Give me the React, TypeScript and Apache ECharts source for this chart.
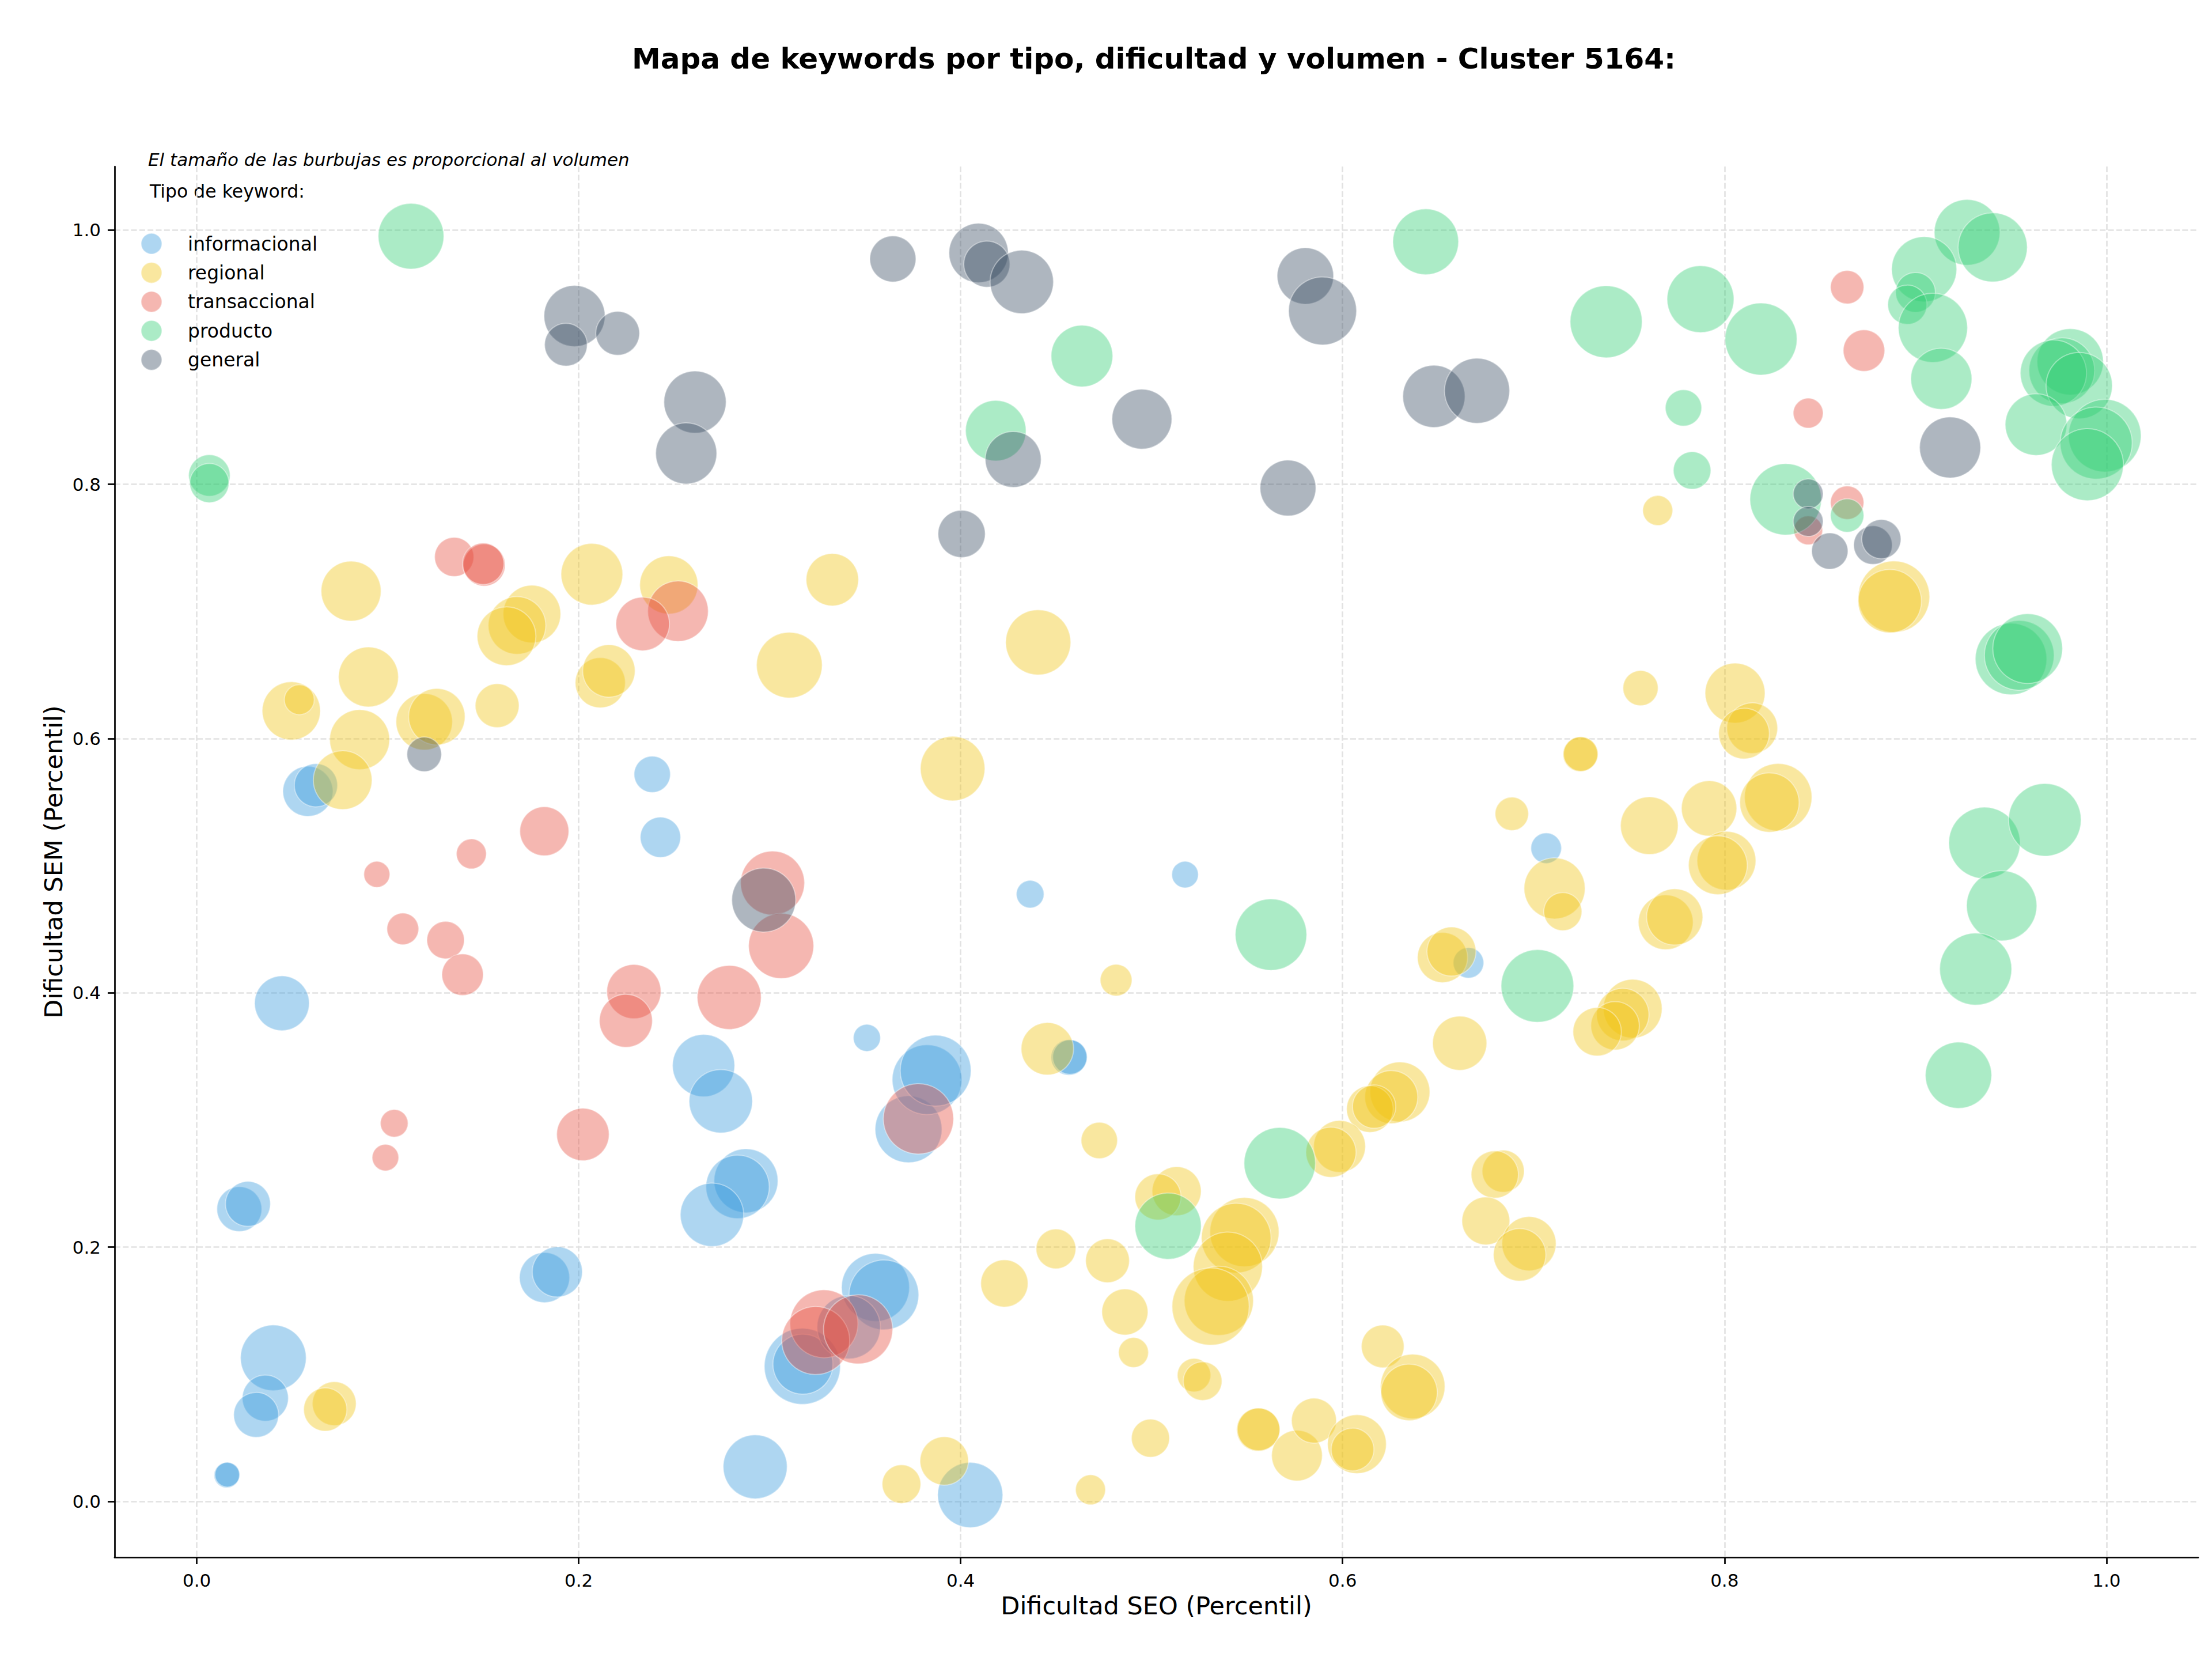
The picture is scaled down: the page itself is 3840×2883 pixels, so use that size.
import React, { useEffect, useRef } from "react";
import * as echarts from "echarts";

// [dificultad SEO, dificultad SEM, volumen]
type Kw = [number, number, number];

const TITLE = "Mapa de keywords por tipo, dificultad y volumen - Cluster 5164:";
const NOTE = "El tamaño de las burbujas es proporcional al volumen";
const LEGEND_TITLE = "Tipo de keyword:";
const X_LABEL = "Dificultad SEO (Percentil)";
const Y_LABEL = "Dificultad SEM (Percentil)";
const TICKS = [0, 0.2, 0.4, 0.6, 0.8, 1.0];

const TYPES = ["informacional", "regional", "transaccional", "producto", "general"];
const COLORS = ["#3498db", "#f1c40f", "#e74c3c", "#2ecc71", "#34495e"];

const informacional: Kw[] = [
  [0.0157, 0.0206, 1940], [0.016, 0.021, 1850],
  [0.0223, 0.2299, 6080], [0.0268, 0.234, 6080],
  [0.0401, 0.1129, 13000], [0.0359, 0.0812, 6400], [0.0311, 0.068, 6080],
  [0.1821, 0.176, 7570], [0.1888, 0.1805, 7570],
  [0.0446, 0.3918, 9030], [0.0582, 0.5585, 7570], [0.0624, 0.5633, 5630],
  [0.2385, 0.5719, 3970], [0.2428, 0.5224, 4900],
  [0.3509, 0.3646, 2210], [0.4364, 0.4776, 2300],
  [0.4567, 0.3492, 3840], [0.4572, 0.3495, 3600],
  [0.5175, 0.493, 2120], [0.7066, 0.5138, 2810], [0.6659, 0.4236, 2810],
  [0.2654, 0.3428, 11660], [0.2744, 0.3147, 12100],
  [0.2876, 0.2522, 12320], [0.2832, 0.2474, 12100], [0.2698, 0.2254, 12100],
  [0.2924, 0.0272, 12320], [0.405, 0.005, 12770],
  [0.3554, 0.1683, 13920], [0.3598, 0.1624, 14640],
  [0.3171, 0.1062, 17420], [0.3174, 0.1079, 10820], [0.3414, 0.137, 12100],
  [0.3727, 0.2927, 13460], [0.3824, 0.3317, 14640], [0.3869, 0.3388, 15130],
];

const regional: Kw[] = [
  [0.0808, 0.716, 10820], [0.2069, 0.7293, 11450], [0.2472, 0.7209, 10200],
  [0.1755, 0.698, 10000], [0.1677, 0.689, 10000], [0.1622, 0.6805, 10400],
  [0.0495, 0.6218, 10200], [0.0537, 0.6306, 2700], [0.0899, 0.6485, 10820],
  [0.0853, 0.5992, 10820], [0.0764, 0.5673, 10400],
  [0.1191, 0.6132, 9600], [0.1257, 0.6172, 9600], [0.1573, 0.6259, 5780],
  [0.2113, 0.6439, 7570], [0.2158, 0.6532, 8280], [0.3328, 0.725, 8280],
  [0.4406, 0.6757, 12770], [0.3103, 0.6578, 13000], [0.3958, 0.5764, 12540],
  [0.4814, 0.41, 3030], [0.4454, 0.356, 8280],
  [0.756, 0.6397, 3720], [0.7244, 0.5876, 3600], [0.7247, 0.5879, 3600],
  [0.6886, 0.5408, 3360], [0.7606, 0.5315, 10000], [0.711, 0.4822, 11240],
  [0.7153, 0.4639, 4360], [0.6523, 0.4278, 7570], [0.657, 0.4325, 7230],
  [0.7692, 0.4555, 9030], [0.7739, 0.4597, 9500], [0.6613, 0.3604, 8840],
  [0.7519, 0.3876, 10400], [0.7467, 0.3829, 8280], [0.7427, 0.3741, 7060],
  [0.7333, 0.3694, 7060],
  [0.63, 0.3221, 10820], [0.6255, 0.318, 8460], [0.6143, 0.3086, 6560], [0.6165, 0.3105, 5630],
  [0.8055, 0.6358, 10820], [0.8145, 0.6082, 7740], [0.8102, 0.6039, 7740],
  [0.8281, 0.5539, 13690], [0.8235, 0.5497, 10610], [0.7919, 0.5451, 9220],
  [0.801, 0.5039, 10400], [0.7965, 0.5004, 10400],
  [0.8887, 0.7116, 15380], [0.8865, 0.7081, 12100], [0.765, 0.7794, 2700],
  [0.072, 0.0769, 5780], [0.0673, 0.0722, 5630],
  [0.4726, 0.2839, 3970], [0.4229, 0.1714, 6720], [0.4499, 0.1986, 4760],
  [0.4769, 0.1893, 5780], [0.486, 0.149, 6400], [0.4905, 0.1171, 2700],
  [0.3914, 0.0318, 7060], [0.369, 0.0136, 4490], [0.468, 0.0091, 2700],
  [0.4994, 0.0497, 4360], [0.5131, 0.244, 7230], [0.5033, 0.2395, 6400],
  [0.5984, 0.2792, 8100], [0.5939, 0.2746, 7570],
  [0.5486, 0.2118, 14400], [0.5443, 0.2071, 14640], [0.5399, 0.1846, 14400],
  [0.5352, 0.1578, 14400], [0.5309, 0.1532, 17960],
  [0.5222, 0.0993, 3360], [0.5267, 0.0946, 4490],
  [0.5558, 0.0564, 5630], [0.556, 0.0566, 5480],
  [0.5761, 0.036, 7740], [0.585, 0.0635, 6080],
  [0.6075, 0.045, 10400], [0.6052, 0.0408, 5480], [0.621, 0.1219, 5480],
  [0.6367, 0.0904, 12540], [0.6348, 0.0857, 9600],
  [0.6841, 0.2597, 5330], [0.6797, 0.2571, 6720], [0.675, 0.2206, 6890],
  [0.6976, 0.2027, 8840], [0.6927, 0.1939, 8280],
];

const transaccional: Kw[] = [
  [0.1348, 0.7429, 4620], [0.1505, 0.7365, 5330], [0.15, 0.7375, 5180],
  [0.252, 0.7002, 11030], [0.2335, 0.6902, 8650],
  [0.182, 0.5271, 7230], [0.1438, 0.5093, 2700], [0.0943, 0.4932, 2030],
  [0.1079, 0.4503, 3030], [0.1303, 0.4415, 4230], [0.1392, 0.4143, 5180],
  [0.2289, 0.401, 8840], [0.2247, 0.378, 8460],
  [0.3015, 0.4864, 12320], [0.306, 0.4369, 12770], [0.2788, 0.3964, 12320],
  [0.1034, 0.2974, 2300], [0.0988, 0.2704, 2120], [0.2022, 0.2886, 8280],
  [0.3284, 0.1397, 13920], [0.3241, 0.1265, 13920], [0.3463, 0.1353, 14400],
  [0.3779, 0.3009, 14880],
  [0.8642, 0.9551, 3360], [0.873, 0.9052, 5180], [0.8438, 0.856, 2700],
  [0.8642, 0.7856, 3360], [0.8438, 0.7638, 2500],
];

const producto: Kw[] = [
  [0.1122, 0.9952, 13000], [0.0066, 0.807, 5180], [0.0066, 0.801, 4620],
  [0.4635, 0.9009, 11450], [0.4184, 0.8422, 11030],
  [0.6435, 0.9908, 13000], [0.738, 0.9279, 15630], [0.7874, 0.9457, 13460],
  [0.8191, 0.9143, 15630], [0.7785, 0.8601, 3970], [0.783, 0.8109, 4230],
  [0.832, 0.7882, 15380], [0.8642, 0.7755, 3360],
  [0.927, 0.9982, 13000], [0.9404, 0.9864, 14400], [0.9045, 0.9692, 12770],
  [0.9, 0.951, 4760], [0.8957, 0.9413, 4620], [0.9091, 0.9231, 14400],
  [0.9135, 0.883, 11240],
  [0.981, 0.8964, 13230], [0.9766, 0.8894, 13000], [0.9722, 0.8875, 13230],
  [0.9857, 0.8777, 13230], [0.9631, 0.847, 11450], [0.9991, 0.8383, 15880],
  [0.9946, 0.8325, 15630], [0.99, 0.8155, 15630],
  [0.95, 0.6626, 15380], [0.9543, 0.6655, 14640], [0.9587, 0.6708, 14640],
  [0.9361, 0.5179, 15380], [0.9677, 0.5361, 15880], [0.9451, 0.4685, 14880],
  [0.9315, 0.4187, 15630], [0.9225, 0.3352, 13230],
  [0.5625, 0.4458, 15380], [0.702, 0.4054, 15880],
  [0.5671, 0.266, 15380], [0.5086, 0.2165, 13230],
];

const general: Kw[] = [
  [0.1978, 0.9324, 11240], [0.1933, 0.9098, 5480], [0.2204, 0.9188, 5780],
  [0.3645, 0.9773, 6400], [0.4094, 0.982, 10610], [0.4137, 0.9732, 6400],
  [0.432, 0.9592, 12100], [0.2609, 0.8647, 11660], [0.2563, 0.8243, 11240],
  [0.4275, 0.8196, 9410], [0.4949, 0.8513, 10820], [0.4005, 0.761, 6720],
  [0.5805, 0.9639, 9600], [0.5895, 0.9364, 13920], [0.6478, 0.8692, 11660],
  [0.6704, 0.8736, 12770], [0.5714, 0.7971, 9410], [0.9181, 0.829, 11240],
  [0.8438, 0.7925, 2700], [0.8438, 0.7708, 2700], [0.8551, 0.7475, 3970],
  [0.8777, 0.7522, 4490], [0.8821, 0.7569, 4620],
  [0.1191, 0.5876, 3600], [0.2969, 0.473, 12320],
];

const GROUPS: Kw[][] = [informacional, regional, transaccional, producto, general];

const FONT = "DejaVu Sans";

function withAlpha(hex: string, a: number): string {
  const n = parseInt(hex.slice(1), 16);
  return `rgba(${(n >> 16) & 255},${(n >> 8) & 255},${n & 255},${a})`;
}

export default function App() {
  const ref = useRef<HTMLDivElement>(null);

  useEffect(() => {
    document.body.style.margin = "0";
    const chart = echarts.init(ref.current!, null, { renderer: "svg" });

    const axisCommon = {
      type: "value" as const,
      nameLocation: "middle" as const,
      nameTextStyle: { fontFamily: FONT, fontSize: 43, color: "#000" },
      axisLine: { show: true, onZero: false, lineStyle: { color: "#000", width: 2.7 } },
      axisTick: {
        show: true,
        length: 12,
        customValues: TICKS,
        lineStyle: { color: "#000", width: 2.7 },
      },
      axisLabel: {
        customValues: TICKS,
        margin: 24,
        fontFamily: FONT,
        fontSize: 31,
        color: "#000",
        formatter: (v: number) => v.toFixed(1),
      },
      splitLine: {
        show: true,
        lineStyle: { color: "#e2e2e2", width: 2.6, type: [10, 4.3] },
      },
    };

    chart.setOption({
      animation: false,
      backgroundColor: "#ffffff",
      title: {
        text: TITLE,
        left: 1998,
        top: 72,
        textAlign: "center",
        textStyle: { fontFamily: FONT, fontSize: 50, fontWeight: "bold", color: "#000" },
      },
      grid: { left: 199, right: 24, top: 289, bottom: 180, containLabel: false },
      xAxis: {
        ...axisCommon,
        name: X_LABEL,
        nameGap: 62,
        min: -0.043,
        max: 1.048,
      },
      yAxis: {
        ...axisCommon,
        name: Y_LABEL,
        nameGap: 84,
        min: -0.044,
        max: 1.05,
      },
      legend: {
        data: TYPES,
        orient: "vertical",
        left: 244,
        top: 404,
        padding: 0,
        itemWidth: 36,
        itemHeight: 36,
        itemGap: 12.4,
        icon: "circle",
        selectedMode: false,
        textStyle: {
          fontFamily: FONT,
          fontSize: 33,
          lineHeight: 36,
          color: "#000",
          padding: [0, 0, 0, 40],
        },
      },
      graphic: [
        {
          type: "text",
          left: 257,
          top: 261,
          style: { text: NOTE, fontFamily: FONT, fontSize: 31, fontStyle: "italic", fill: "#000" },
        },
        {
          type: "text",
          left: 260,
          top: 316,
          style: { text: LEGEND_TITLE, fontFamily: FONT, fontSize: 31.5, fill: "#000" },
        },
      ],
      series: TYPES.map((name, i) => ({
        name,
        type: "scatter",
        data: GROUPS[i],
        symbolSize: (val: number[]) => Math.sqrt(val[2]),
        silent: true,
        itemStyle: {
          color: withAlpha(COLORS[i], 0.5),
          borderColor: "rgba(255,255,255,0.5)",
          borderWidth: 2,
        },
        emphasis: { disabled: true },
      })),
    });

    return () => chart.dispose();
  }, []);

  return <div ref={ref} style={{ width: 3840, height: 2883 }} />;
}
